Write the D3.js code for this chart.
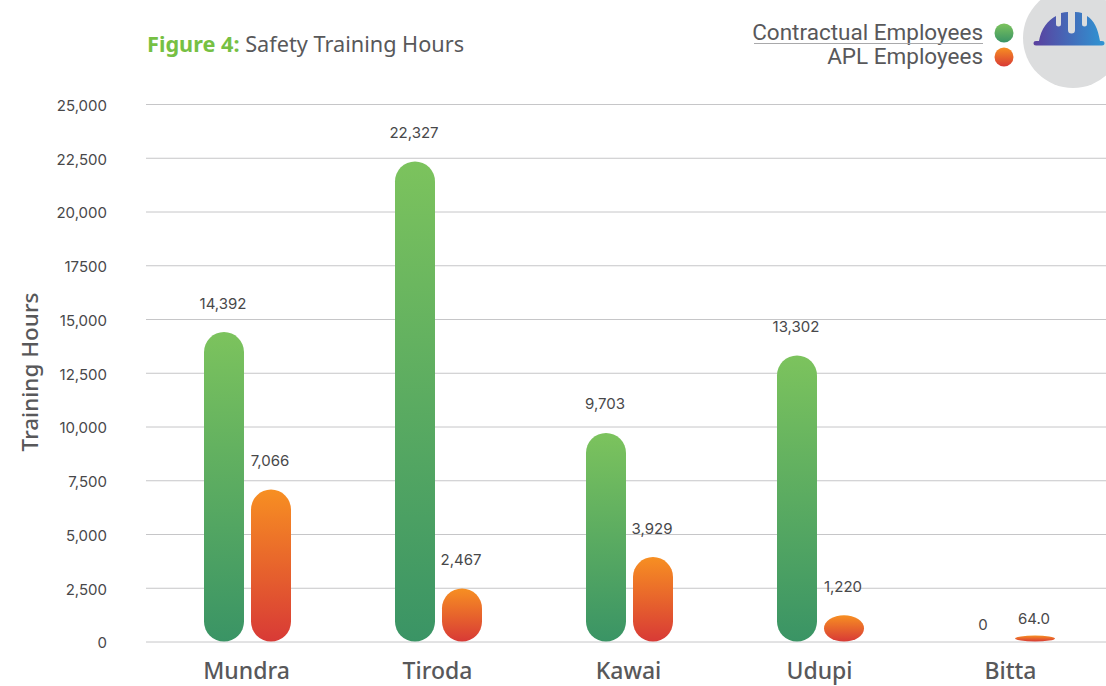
<!DOCTYPE html>
<html>
<head>
<meta charset="utf-8">
<script src="https://cdn.jsdelivr.net/npm/d3@7"></script>
<style>
    html, body { margin: 0; padding: 0; background: #fff; }
    svg { display: block; }
    text { font-family: "Noto Sans", sans-serif; }
    .num { font-family: "Inter", sans-serif; font-size: 15px; fill: #48484a; }
</style>
</head>
<body>
<svg id="chart" width="1106" height="686"></svg>
<script>
const sites = ["Mundra", "Tiroda", "Kawai", "Udupi", "Bitta"];
const seriesNames = ["Contractual Employees", "APL Employees"];
const contractual = [14392, 22327, 9703, 13302, 0];
const apl = [7066, 2467, 3929, 1220, 64];
const valueLabels = [
    ["14,392", "22,327", "9,703", "13,302", "0"],
    ["7,066", "2,467", "3,929", "1,220", "64.0"]
];
const tickValues = [0, 2500, 5000, 7500, 10000, 12500, 15000, 17500, 20000, 22500, 25000];
const tickLabels = ["0", "2,500", "5,000", "7,500", "10,000", "12,500", "15,000", "17500", "20,000", "22,500", "25,000"];

const svg = d3.select("#chart");

const y = d3.scaleLinear().domain([0, 25000]).range([641.5, 104]);
const x0 = d3.scaleBand().domain(sites).range([152, 1107]);
const x1 = d3.scaleBand().domain(seriesNames).range([0, 87]).paddingInner(0.149);
const groupOffset = (x0.bandwidth() - 87) / 2; // center the pair of bars in each band

// Gradients
const defs = svg.append("defs");
function addGradient(id, c1, c2, horizontal) {
    const grad = defs.append("linearGradient")
        .attr("id", id)
        .attr("x1", 0).attr("y1", 0)
        .attr("x2", horizontal ? 1 : 0).attr("y2", horizontal ? 0 : 1);
    grad.append("stop").attr("offset", "0%").attr("stop-color", c1);
    grad.append("stop").attr("offset", "100%").attr("stop-color", c2);
}
addGradient("grad-green", "#7cc35d", "#3a9465");
addGradient("grad-orange", "#f78f22", "#d83a36");
addGradient("grad-helmet", "#5b3f9e", "#2e95d3", true);
const fills = ["url(#grad-green)", "url(#grad-orange)"];

// Y axis + gridlines
const yAxis = svg.append("g")
    .attr("transform", "translate(146,0)")
    .call(d3.axisLeft(y)
        .tickValues(tickValues)
        .tickSize(-960)
        .tickPadding(39)
        .tickFormat((d, i) => tickLabels[i]));
yAxis.select(".domain").remove();
yAxis.selectAll("line").attr("stroke", "#c6c6c8").attr("stroke-width", 1);
yAxis.selectAll("text").attr("class", "num").attr("fill", null).attr("dy", "0.42em");

svg.append("text")
    .attr("transform", "translate(29,372) rotate(-90)")
    .attr("text-anchor", "middle")
    .attr("dominant-baseline", "central")
    .style("font-size", "22.5px")
    .style("font-weight", 500)
    .style("fill", "#58585a")
    .text("Training Hours");

// very small values still get a visible sliver, like the original
function barHeight(v) {
    if (v === 0) return 0;
    return Math.max(y(0) - y(v), 6);
}

// Bars
const series = [contractual, apl];
series.forEach((values, s) => {
    const name = seriesNames[s];
    const g = svg.append("g");
    const rows = values.map((v, i) => ({ site: sites[i], value: v, label: valueLabels[s][i] }));

    g.selectAll("rect")
        .data(rows.filter(d => d.value > 0))
        .enter()
        .append("rect")
        .attr("x", d => x0(d.site) + groupOffset + x1(name))
        .attr("width", x1.bandwidth())
        .attr("y", d => y(0) - barHeight(d.value))
        .attr("height", d => barHeight(d.value))
        .attr("rx", x1.bandwidth() / 2)
        .attr("ry", d => Math.min(x1.bandwidth() / 2, barHeight(d.value) / 2))
        .attr("fill", fills[s]);

    g.selectAll("text")
        .data(rows)
        .enter()
        .append("text")
        .attr("class", "num")
        .attr("x", d => x0(d.site) + groupOffset + x1(name) + x1.bandwidth() / 2 - (d.value === 0 ? 5 : 1))
        .attr("y", d => y(0) - barHeight(d.value) - (barHeight(d.value) < 10 ? 17 : 29))
        .attr("text-anchor", "middle")
        .attr("dominant-baseline", "central")
        .text(d => d.label);
});

// Category labels
svg.append("g").selectAll("text")
    .data(sites)
    .enter()
    .append("text")
    .attr("x", d => x0(d) + x0.bandwidth() / 2 - 1)
    .attr("y", 670)
    .attr("text-anchor", "middle")
    .attr("dominant-baseline", "central")
    .style("font-size", "23px")
    .style("font-weight", 500)
    .style("fill", "#58585a")
    .text(d => d);

// Title
const title = svg.append("text")
    .attr("x", 147)
    .attr("y", 52)
    .style("font-size", "21.7px");
title.append("tspan").style("font-weight", 700).style("fill", "#76c043").text("Figure 4: ");
title.append("tspan").style("fill", "#58585a").text("Safety Training Hours");

// Legend
const legendY = [33, 57];
seriesNames.forEach((name, i) => {
    svg.append("text")
        .attr("x", 983)
        .attr("y", legendY[i] - 1.5)
        .attr("text-anchor", "end")
        .attr("dominant-baseline", "central")
        .style("font-family", "Roboto, sans-serif")
        .style("font-size", "22.5px")
        .style("fill", "#58585a")
        .text(name);
    svg.append("circle")
        .attr("cx", 1004)
        .attr("cy", legendY[i])
        .attr("r", 9.5)
        .attr("fill", fills[i]);
});
svg.append("line")
    .attr("x1", 754).attr("x2", 983)
    .attr("y1", 43.5).attr("y2", 43.5)
    .attr("stroke", "#a9a9ab");

// Helmet icon
svg.append("circle")
    .attr("cx", 1073)
    .attr("cy", 38)
    .attr("r", 50)
    .attr("fill", "#dcddde");
svg.append("path")
    .attr("fill", "url(#grad-helmet)")
    .attr("d", "M1039,41 C1041,29 1048,20 1056,16 L1056,24 Q1056,26.5 1058.5,26.5 Q1061,26.5 1061,24 L1061,13 Q1065,12 1068,12 L1068,30 Q1068,33.5 1071.5,33.5 Q1075,33.5 1075,30 L1075,12 Q1079,12 1082,13 L1082,24 Q1082,26.5 1084.5,26.5 Q1087,26.5 1087,24 L1087,16 C1094,20 1098,29 1100,41 L1102,41 Q1104.5,41 1104.5,43 Q1104.5,45.5 1102,45.5 L1036,45.5 Q1033.5,45.5 1033.5,43 Q1033.5,41 1036,41 Z");
</script>
</body>
</html>
